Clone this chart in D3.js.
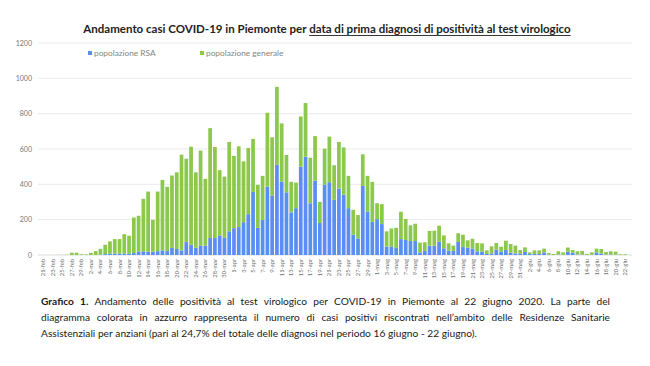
<!DOCTYPE html>
<html><head><meta charset="utf-8">
<script src="https://cdn.jsdelivr.net/npm/d3@7"></script>
<style>html,body{margin:0;padding:0;background:#fff;}svg{display:block;}</style>
</head><body>
<svg id="c" width="650" height="366"></svg>
<script>
// ---- data ----
const months = ["feb","mar","apr","mag","giu"];
const monthDays = [[21,29],[1,31],[1,30],[1,31],[1,22]];
const totals = [0,0,0,1,1,2,13,13,4,3,12,22,35,58,77,90,90,118,109,212,222,318,359,199,359,425,386,450,468,568,545,613,468,591,431,718,611,480,444,640,
 561,615,530,606,657,397,448,805,666,952,745,566,414,410,784,860,551,673,301,602,670,508,640,609,448,256,226,570,448,414,
 293,288,134,150,154,245,204,168,177,70,72,136,138,166,111,66,53,123,115,83,92,68,66,26,49,68,47,81,62,53,28,
 43,15,26,26,36,11,6,21,15,42,28,21,23,6,15,36,34,17,21,19,4,4];
const rsa = [0,0,0,0,0,0,0,0,0,0,0,0,2,5,8,8,8,8,8,11,19,21,19,19,22,26,22,40,34,26,73,58,41,53,53,96,96,111,98,134,
 152,158,186,231,357,154,199,387,337,510,416,355,241,265,500,557,293,421,181,399,412,312,376,342,265,115,94,391,246,188,
 203,175,47,49,40,90,85,79,79,15,23,53,53,75,38,25,23,74,45,42,36,21,19,6,9,30,19,28,13,9,9,
 17,6,6,6,15,2,0,2,1,19,13,3,2,0,2,15,8,2,3,2,0,0];
const yTicks = [0,200,400,600,800,1000,1200];
const seriesNames = ["popolazione RSA","popolazione generale"];
const titlePlain = "Andamento casi COVID-19 in Piemonte per ";
const titleUnder = "data di prima diagnosi di positività al test virologico";
const captionLines = [
 [{t:"Grafico 1.",b:true},{t:" Andamento delle positività al test virologico per COVID-19 in Piemonte al 22 giugno 2020. La parte del"}],
 [{t:"diagramma colorata in azzurro rappresenta il numero di casi positivi riscontrati nell’ambito delle Residenze Sanitarie"}],
 [{t:"Assistenziali per anziani (pari al 24,7% del totale delle diagnosi nel periodo 16 giugno - 22 giugno)."}]
];

const dates = [];
months.forEach((m,k)=>{for(let d=monthDays[k][0];d<=monthDays[k][1];d++) dates.push(d+"-"+m);});
const data = dates.map((d,i)=>({date:d, rsa:rsa[i], gen:Math.max(0,totals[i]-rsa[i])}));

const blue="#5b8ef2", green="#8cc84b";
const font="Lato, 'Open Sans', sans-serif";
const svg = d3.select("#c");
const x = d3.scaleBand().domain(dates).range([40.8,627.5]).paddingInner(0.22).paddingOuter(0.11);
const y = d3.scaleLinear().domain([0,1200]).range([255,43]);

// grid
svg.append("g").selectAll("line").data(yTicks.slice(1)).join("line")
  .attr("x1",38).attr("x2",632).attr("y1",d=>y(d)).attr("y2",d=>y(d))
  .attr("stroke","#e4e4e4").attr("stroke-width",0.8);
svg.append("line").attr("x1",38).attr("x2",632).attr("y1",y(0)).attr("y2",y(0)).attr("stroke","#d6d6d6").attr("stroke-width",0.8);

// y labels
const yAxis = svg.append("g").attr("transform","translate(32,0)")
  .call(d3.axisLeft(y).tickValues(yTicks).tickFormat(d3.format("d")).tickSize(0).tickPadding(0));
yAxis.select(".domain").remove();
yAxis.selectAll("text").attr("font-family",font).attr("font-size",7).attr("fill","#777");

// stacked bars
const stack = d3.stack().keys(["rsa","gen"])(data);
const colors = {rsa:blue, gen:green};
svg.append("g").selectAll("g").data(stack).join("g").attr("fill",s=>colors[s.key])
  .selectAll("rect").data(s=>s).join("rect")
  .attr("x",d=>x(d.data.date)).attr("width",x.bandwidth())
  .attr("y",d=>y(d[1])).attr("height",d=>Math.max(0,y(d[0])-y(d[1])));

// x labels every other day
const xa = svg.append("g").attr("transform","translate(0,258)")
  .call(d3.axisBottom(x).tickValues(dates.filter((d,i)=>i%2===0)).tickSize(0).tickPadding(0));
xa.select(".domain").remove();
xa.selectAll(".tick text").attr("font-family",font).attr("font-size",5.8).attr("fill","#707070")
  .attr("text-anchor","end").attr("transform","rotate(-90)").attr("x",-1).attr("y",0).attr("dy","0.35em");

// legend
const leg = [{n:seriesNames[0],c:blue,x:88},{n:seriesNames[1],c:green,x:200}];
leg.forEach(l=>{
  svg.append("rect").attr("x",l.x).attr("y",51).attr("width",4).attr("height",4).attr("fill",l.c);
  svg.append("text").attr("x",l.x+6).attr("y",56).attr("font-family",font)
    .attr("font-size",8.3).attr("fill","#858585").text(l.n);
});

// title
const tt = svg.append("text").attr("y",33).attr("font-family",font)
  .attr("font-weight","bold").attr("font-size",11).attr("fill","#222");
tt.append("tspan").text(titlePlain);
tt.append("tspan").text(titleUnder);
let tw = tt.node().getComputedTextLength();
tt.attr("font-size",11*488/tw);
tw = tt.node().getComputedTextLength();
const tx = 325 - tw/2 + 2;
tt.attr("x",tx);
const plainW = tt.node().getSubStringLength(0,titlePlain.length);
svg.append("line").attr("x1",tx+plainW).attr("x2",tx+tw).attr("y1",35.5).attr("y2",35.5).attr("stroke","#222").attr("stroke-width",0.9);

// caption (justified)
const capX0=41, capX1=610, capBase=[305,321,337], capFont=10.2;
captionLines.forEach((line,li)=>{
  const words=[];
  line.forEach(seg=>{seg.t.split(" ").forEach(w=>{if(w.length) words.push({t:w,b:!!seg.b});});});
  const g=svg.append("g");
  const nodes = words.map(w=>g.append("text").attr("y",capBase[li]).attr("font-family",font)
     .attr("font-size",capFont).attr("font-weight",w.b?"bold":"normal").attr("fill","#1a1a1a").text(w.t));
  const widths = nodes.map(n=>n.node().getComputedTextLength());
  const sum = d3.sum(widths);
  const justify = li<captionLines.length-1;
  const gap = justify ? (capX1-capX0-sum)/(words.length-1) : capFont*0.26;
  let cx=capX0;
  nodes.forEach((n,k)=>{n.attr("x",cx); cx+=widths[k]+gap;});
});
</script>
</body></html>
